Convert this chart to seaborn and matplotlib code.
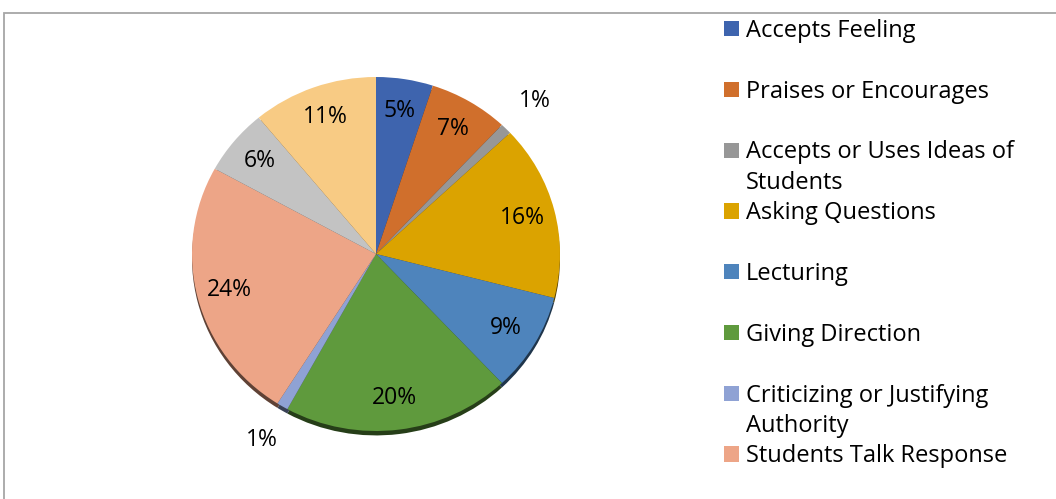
import numpy as np
import matplotlib
matplotlib.use("Agg")
import matplotlib.pyplot as plt
import matplotlib.colors as mcolors
from matplotlib.patches import Patch, Rectangle
import seaborn as sns

categories = [
    "Accepts Feeling",
    "Praises or Encourages",
    "Accepts or Uses Ideas of Students",
    "Asking Questions",
    "Lecturing",
    "Giving Direction",
    "Criticizing or Justifying Authority",
    "Students Talk Response",
    "Students Talk Initiation",
    "Silence or Confusion",
]
legend_lines = [
    ["Accepts Feeling"],
    ["Praises or Encourages"],
    ["Accepts or Uses Ideas of", "Students"],
    ["Asking Questions"],
    ["Lecturing"],
    ["Giving Direction"],
    ["Criticizing or Justifying", "Authority"],
    ["Students Talk Response"],
]
values = [5, 7, 1, 16, 9, 20, 1, 24, 6, 11]
pct_labels = ["5%", "7%", "1%", "16%", "9%", "20%", "1%", "24%", "6%", "11%"]
colors = ["#3E64AE", "#D06F2C", "#979797", "#DBA300", "#4E84BC",
          "#5F9A3D", "#8FA2D4", "#EDA587", "#C3C3C3", "#F8CB84"]

sns.set_theme(style="white")
plt.rcParams["font.family"] = ["Open Sans", "DejaVu Sans"]

W, H = 1056, 499
fig = plt.figure(figsize=(W / 100, H / 100), dpi=100)

# chart frame (cropped at right/bottom)
fig.add_artist(Rectangle((4 / W, -0.2), 1.5, (H - 13) / H + 0.2,
                         transform=fig.transFigure, fill=False,
                         ec="#A6A6A6", lw=1.3))

# pie axes
cx, cy = 376, H - 254
rx, ry = 184, 177
m = 1.3
ax = fig.add_axes([(cx - m * rx) / W, (cy - m * ry) / H,
                   2 * m * rx / W, 2 * m * ry / H])

dark = [tuple(np.array(mcolors.to_rgb(c)) * 0.4) for c in colors]
ax.pie(values, colors=dark, startangle=90, counterclock=False,
       radius=1, center=(0, -0.025), wedgeprops=dict(linewidth=0))
ax.pie(values, colors=colors, startangle=90, counterclock=False,
       radius=1, center=(0, 0), wedgeprops=dict(linewidth=0))
ax.set_aspect("auto")
ax.set_xlim(-m, m)
ax.set_ylim(-m, m)
ax.axis("off")

total = float(sum(values))
cum = np.cumsum([0] + values)
for i, v in enumerate(values):
    mid = (cum[i] + v / 2) / total
    ang = np.deg2rad(90 - 360 * mid)
    r = 1.22 if v <= 1 else 0.82
    ax.text(r * np.cos(ang), r * np.sin(ang), pct_labels[i],
            ha="center", va="center", fontsize=16.5, color="black")

# legend
handles, labels = [], []
for col, lines in zip(colors, legend_lines):
    handles.append(Patch(facecolor=col, edgecolor="none"))
    labels.append(lines[0])
    handles.append(Patch(facecolor="none", edgecolor="none"))
    labels.append(lines[1] if len(lines) > 1 else " ")
handles, labels = handles[:-1], labels[:-1]

fs = 17
leg = fig.legend(handles, labels, loc="upper left",
                 bbox_to_anchor=(724 / W, (H - 19) / H),
                 frameon=False, fontsize=fs, borderpad=0, borderaxespad=0,
                 handlelength=0.62, handleheight=0.62, handletextpad=0.3,
                 labelspacing=0.27)
for t in leg.get_texts():
    t.set_color("black")

fig.savefig("out.png", dpi=100)
